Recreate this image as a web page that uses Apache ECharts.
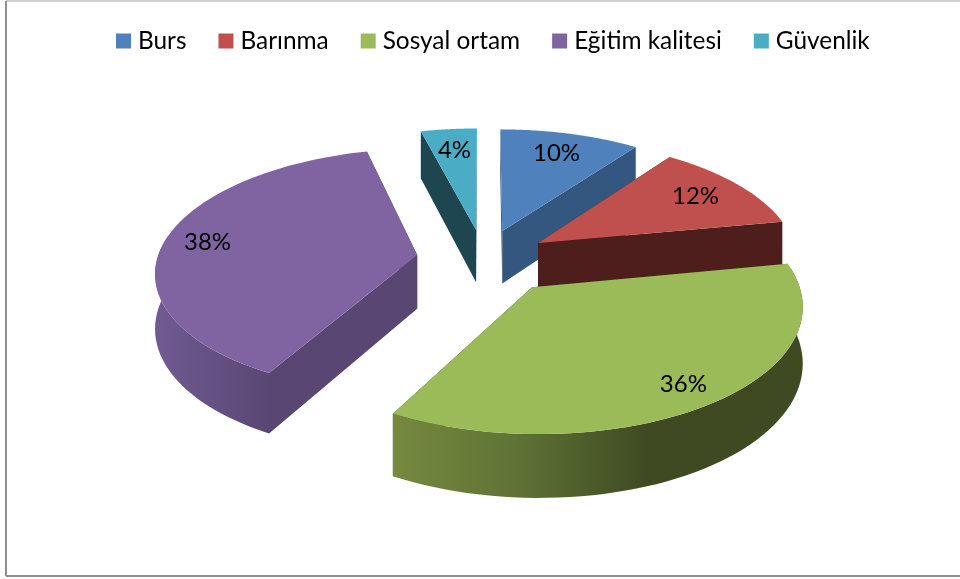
<!DOCTYPE html>
<html><head><meta charset="utf-8">
<style>html,body{margin:0;padding:0;background:#fff}#c{width:960px;height:579px}</style>
<script src="https://cdn.jsdelivr.net/npm/echarts@6/dist/echarts.min.js"></script>
</head><body><div id="c"></div>
<script>
const categories = ['Burs', 'Barınma', 'Sosyal ortam', 'Eğitim kalitesi', 'Güvenlik'];
const shares = [10, 12, 36, 38, 4];
const topColors = ['#4f81bd', '#c0504d', '#9bbb59', '#8064a2', '#4bacc6'];
const wallColors = ['#34577f', '#4d1e1c', '#3f4a22', '#5a4673', '#1d4650'];
const drawOrder = [2, 3, 5, 4, 1];
const labelReach = [0.78, 0.78, 0.85, 0.83, 0.77];
const explodeBy = [0.25, 0.25, 0.28, 0.26, 0.25];
const sideNudge = [-0.005, 0, 0.015, 0, 0];

const view = {cx: 484, cy: 259, R: 260, k: 0.465, p: 0.125, depth: 54};
const total = shares.reduce((a, b) => a + b, 0);
const toRad = Math.PI / 180;
function project(U, V, Z) {
  const w = 1 / (1 - view.p * V);
  return [view.cx + view.R * U * w, view.cy + view.R * view.k * V * w + Z * view.depth * w];
}
function renderSlice(params, api) {
  const start = api.value(0) / total * 360, span = api.value(1) / total * 360;
  const i = params.seriesIndex, mid = (start + span / 2) * toRad;
  const aU = explodeBy[i] * Math.sin(mid) + sideNudge[i], aV = -explodeBy[i] * Math.cos(mid);
  const rim = (deg, Z) => project(aU + Math.sin(deg * toRad), aV - Math.cos(deg * toRad), Z);
  const top = [project(aU, aV, 0)], n = 60;
  const arcDeg = [];
  for (let s = 0; s <= n; s++) arcDeg.push(start + span * s / n);
  arcDeg.forEach(d => top.push(rim(d, 0)));
  const children = [];
  [start, start + span].forEach(d => children.push({type: 'polygon', shape: {points:
    [project(aU, aV, 0), rim(d, 0), rim(d, 1), project(aU, aV, 1)]},
    style: {fill: wallColors[i]}}));
  const front = arcDeg.filter(d => { const t = ((d % 360) + 360) % 360; return t > 80 && t < 280; });
  if (front.length > 1) {
    const pts = front.map(d => rim(d, 0)).concat(front.slice().reverse().map(d => rim(d, 1)));
    const xs = pts.map(q => q[0]), x0 = Math.min(...xs), x1 = Math.max(...xs);
    const grad = i === 2
      ? [{offset: 0, color: '#76893f'}, {offset: 0.3, color: '#5f7336'}, {offset: 0.62, color: '#3f4a22'}, {offset: 1, color: '#3f4a22'}]
      : [{offset: 0, color: '#5b4776'}, {offset: 0.15, color: '#5e4a79'}, {offset: 1, color: '#705a92'}];
    children.push({type: 'polygon', shape: {points: pts},
      style: {fill: {type: 'linear', x: x0, y: 0, x2: x1, y2: 0, global: true, colorStops: i === 2 ? grad : grad.slice().reverse().map((c, j, a) => ({offset: 1 - c.offset, color: c.color}))}}});
  }
  children.push({type: 'polygon', shape: {points: top}, style: {fill: topColors[i]}});
  const reach = labelReach[i], lab = project(aU + reach * Math.sin(mid), aV - reach * Math.cos(mid), 0);
  children.push({type: 'text', style: {text: api.value(1) + '%', x: lab[0], y: lab[1],
    align: 'center', verticalAlign: 'middle', fontFamily: 'Lato', fontSize: 24, fill: '#000'}});
  return {type: 'group', children};
}
let acc = 0;
const series = categories.map((name, i) => {
  const s = {type: 'custom', name, coordinateSystem: 'none', renderItem: renderSlice, z: drawOrder[i],
    itemStyle: {color: topColors[i]}, silent: true, animation: false,
    data: [[acc, shares[i]]]};
  acc += shares[i];
  return s;
});
const chart = echarts.init(document.getElementById('c'), null, {renderer: 'canvas'});
chart.setOption({
  animation: false, backgroundColor: '#fff',
  legend: {data: categories, left: 111, top: 24, icon: 'rect', itemWidth: 15, itemHeight: 15, itemGap: 32,
    selectedMode: false, textStyle: {fontFamily: 'Lato', fontSize: 24.4, color: '#000', padding: [0, 0, 0, 2]}},
  graphic: [
    {type: 'line', shape: {x1: 6, y1: 1, x2: 960, y2: 1}, style: {stroke: '#cfcfcf', lineWidth: 2}},
    {type: 'line', shape: {x1: 6, y1: 1, x2: 6, y2: 576}, style: {stroke: '#8f8f8f', lineWidth: 2}},
    {type: 'line', shape: {x1: 6, y1: 576, x2: 960, y2: 576}, style: {stroke: '#8f8f8f', lineWidth: 2}}
  ],
  series
});
</script></body></html>
